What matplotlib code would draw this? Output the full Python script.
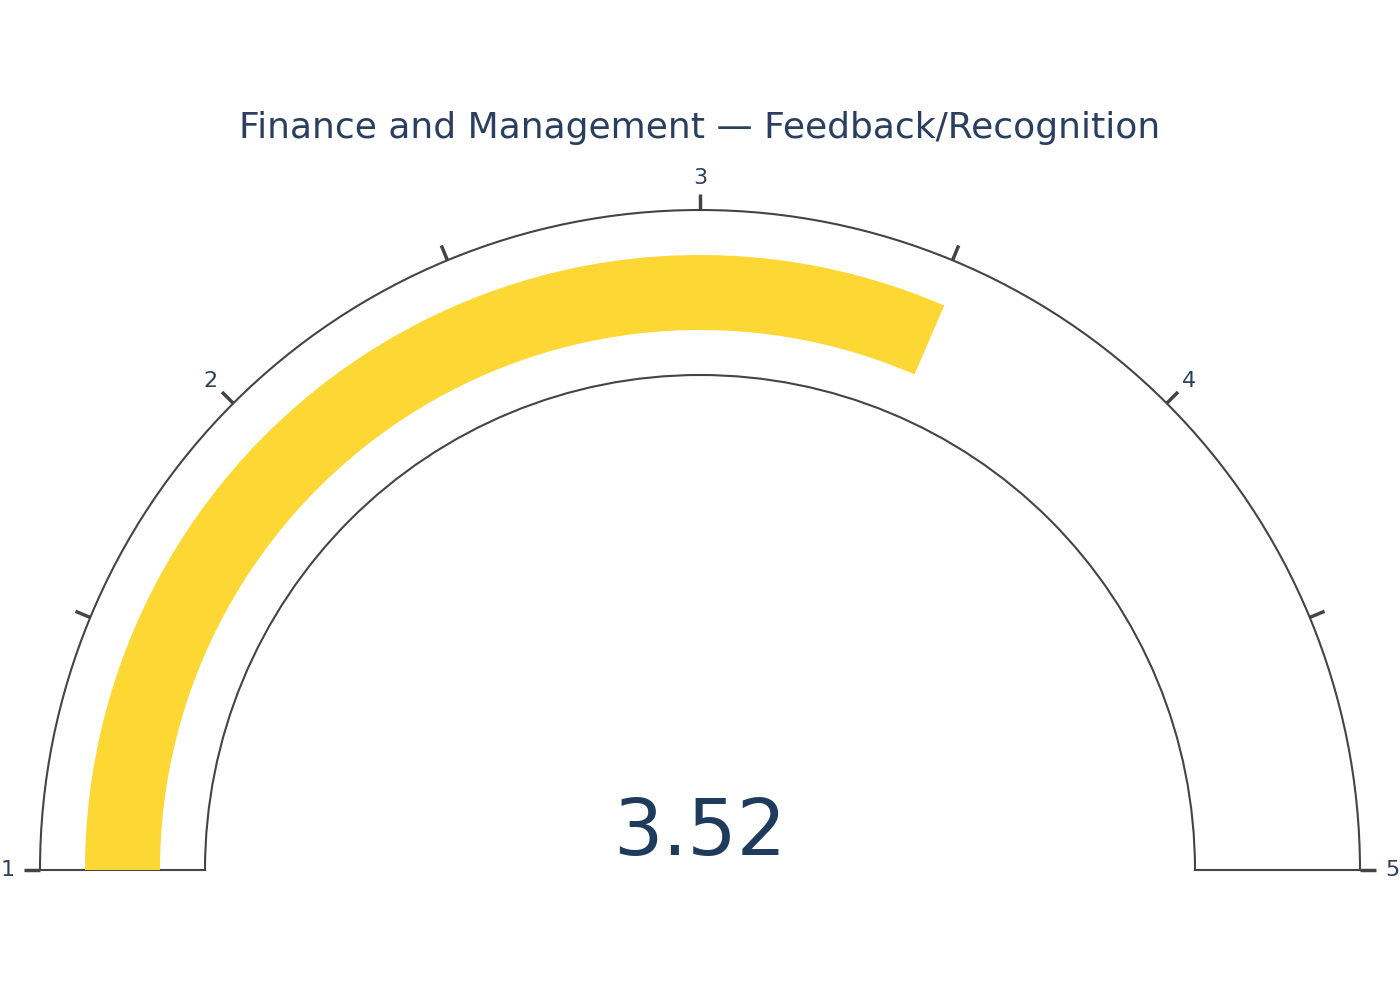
import numpy as np
import matplotlib
matplotlib.use("Agg")
import matplotlib.pyplot as plt
from matplotlib.patches import Wedge

title = "Finance and Management — Feedback/Recognition"
value = 3.52
range_min, range_max = 1, 5
tick_values = [1, 1.5, 2, 2.5, 3, 3.5, 4, 4.5, 5]
tick_labels = ["1", "", "2", "", "3", "", "4", "", "5"]

TEXT = "#2a3f5f"
NUM = "#1f3b5c"
LINE = "#444444"
BAR = "#fdd835"

fig = plt.figure(figsize=(14, 10), dpi=100)
ax = fig.add_axes([0, 0, 1, 1])
ax.set_xlim(0, 1400)
ax.set_ylim(0, 1000)
ax.set_aspect("equal")
ax.axis("off")

cx, cy = 700, 130
r_out, r_in = 660, 495
bar_out, bar_w = 615, 75


def ang(v):
    return 180.0 - (v - range_min) / (range_max - range_min) * 180.0

# gauge background outline
ax.add_patch(Wedge((cx, cy), r_out, 0, 180, width=r_out - r_in,
                   facecolor="white", edgecolor=LINE, lw=1.5, zorder=1))
# value bar
ax.add_patch(Wedge((cx, cy), bar_out, ang(value), 180, width=bar_w,
                   facecolor=BAR, edgecolor="none", zorder=2))

# ticks and labels
for v, lab in zip(tick_values, tick_labels):
    a = np.deg2rad(ang(v))
    c, s = np.cos(a), np.sin(a)
    ax.plot([cx + r_out * c, cx + (r_out + 16) * c],
            [cy + r_out * s, cy + (r_out + 16) * s],
            color=LINE, lw=2.5, solid_capstyle="butt", zorder=3)
    if lab:
        rl = 692
        ax.text(cx + rl * c, cy + rl * s, lab, ha="center", va="center",
                fontsize=16, color=TEXT, family="DejaVu Sans")

ax.text(700, 872, title, ha="center", va="center", fontsize=26,
        color=TEXT, family="DejaVu Sans")
ax.text(700, 167, f"{value:.2f}", ha="center", va="center", fontsize=56,
        color=NUM, family="DejaVu Sans")

fig.savefig("out.png", dpi=100, facecolor="white")
